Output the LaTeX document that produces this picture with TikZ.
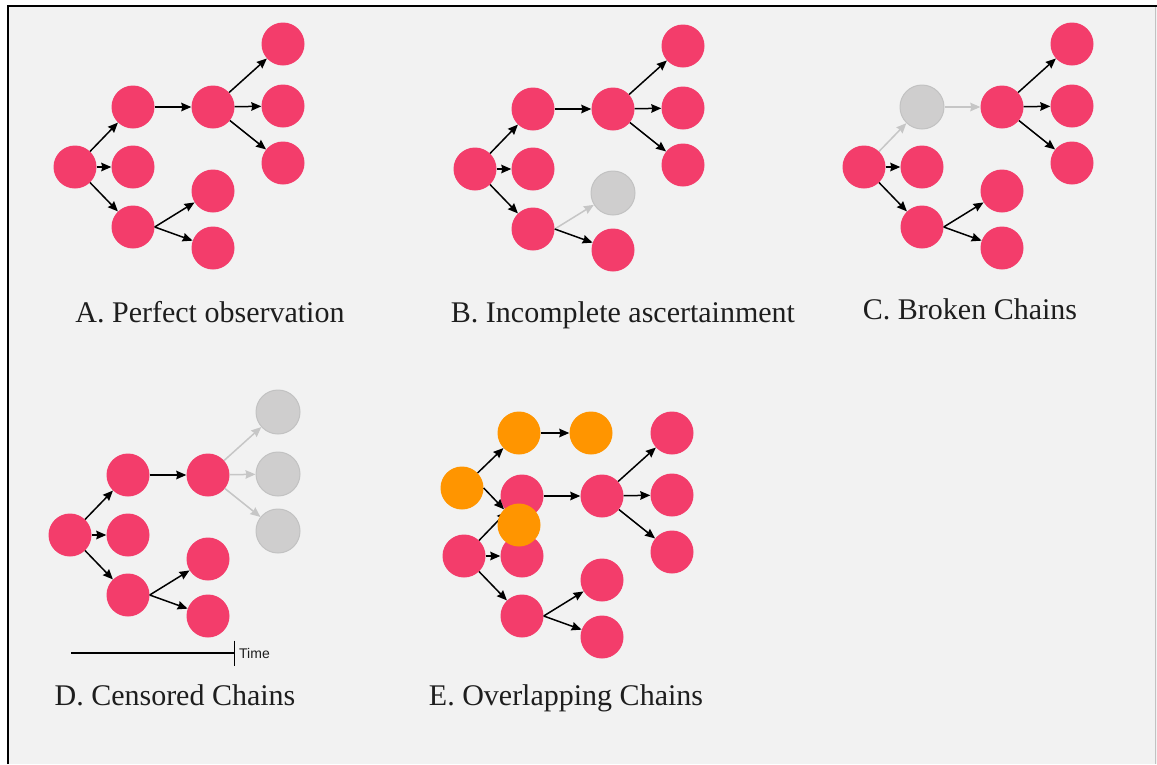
\documentclass[tikz,border=0pt]{standalone}
\usepackage{fontspec}
\setmainfont{Liberation Serif}
\setsansfont{Liberation Sans}
\usepackage{tikz}
\usetikzlibrary{arrows.meta,positioning}
\definecolor{paper}{HTML}{F2F2F2}
\definecolor{pink}{HTML}{F33D6B}
\definecolor{amber}{HTML}{FF9500}
\definecolor{ghost}{HTML}{CFCECE}
\definecolor{ghostline}{HTML}{C2C2C2}
\definecolor{ghostlink}{HTML}{C6C6C6}
\definecolor{ink}{HTML}{1E1E1E}
\tikzset{
  case/.style={circle, fill=pink, minimum size=43pt, inner sep=0pt},
  faded/.style={fill=ghost, draw=ghostline, line width=1pt, minimum size=44pt},
  overlap/.style={case, fill=amber},
  link/.style={-{Stealth[length=10pt,width=8.5pt,inset=1pt]}, draw=black, line width=1.5pt},
  fadedlink/.style={link, draw=ghostlink},
  caption/.style={font=\fontsize{30}{36}\selectfont, text=ink, anchor=base, inner sep=0pt},
  timeline/.style={-{Bar[width=25pt,line width=1.2pt]}, draw=black, line width=1.2pt},
  timelabel/.style={font=\sffamily\fontsize{14}{16}\selectfont, text=ink, inner sep=1pt}
}
% one transmission tree; #1 name prefix, #2 root position, #3 per-panel overrides
\newcommand{\chaintree}[3]{%
  \begin{scope}[shift={#2}, #3]
    \node[case, case r/.try] (#1r) at (0,0) {};
    \node[case, case u/.try] (#1u) at (58,-60) {};
    \node[case, case m/.try] (#1m) at (58,0) {};
    \node[case, case d/.try] (#1d) at (58,60) {};
    \node[case, case s/.try] (#1s) at (138,-60) {};
    \node[case, case s1/.try] (#1s1) at (208,-123) {};
    \node[case, case s2/.try] (#1s2) at (208,-61) {};
    \node[case, case s3/.try] (#1s3) at (208,-4) {};
    \node[case, case d1/.try] (#1d1) at (138,24) {};
    \node[case, case d2/.try] (#1d2) at (138,81) {};
    \draw[link, link u/.try] (#1r) -- (#1u);
    \draw[link, link m/.try] (#1r) -- (#1m);
    \draw[link, link d/.try] (#1r) -- (#1d);
    \draw[link, link s/.try] (#1u) -- (#1s);
    \draw[link, link s1/.try] (#1s) -- (#1s1);
    \draw[link, link s2/.try] (#1s) -- (#1s2);
    \draw[link, link s3/.try] (#1s) -- (#1s3);
    \draw[link, link d1/.try] (#1d.east) -- (#1d1);
    \draw[link, link d2/.try] (#1d.east) -- (#1d2);
  \end{scope}}

\begin{document}
\begin{tikzpicture}[x=1pt, y=-1pt]
  \useasboundingbox (0,0) rectangle (1157,764);
  \fill[white] (0,0) rectangle (1157,764);
  \fill[paper] (8,6) rectangle (1157,764);
  \draw[black, line width=2pt] (8,764) -- (8,6) -- (1157,6);
  \draw[ghostline, line width=1pt] (1155.5,7) -- (1155.5,764);

  % A. nothing missed
  \chaintree{a}{(75,167)}{}
  \node[caption] (captA) at (210,322) {A. Perfect observation};

  % B. one case never seen
  \chaintree{b}{(475,169)}{case d1/.style=faded, link d1/.style=fadedlink}
  \node[caption] (captB) at (623,322) {B. Incomplete ascertainment};

  % C. missing link in the middle
  \chaintree{c}{(864,167)}{case u/.style=faded, link u/.style=fadedlink, link s/.style=fadedlink}
  \node[caption] (captC) at (970,319) {C. Broken Chains};

  % D. cut off in time
  \chaintree{d}{(70,535)}{case s1/.style=faded, case s2/.style=faded, case s3/.style=faded,
    link s1/.style=fadedlink, link s2/.style=fadedlink, link s3/.style=fadedlink}
  \coordinate (t0) at (71,653);
  \coordinate (t1) at (235,653);
  \draw[timeline] (t0) -- (t1);
  \node[timelabel, right=3pt of t1] (timeword) {Time};
  \node[caption] (captD) at (175,705) {D. Censored Chains};

  % E. second chain laid over the first
  \chaintree{e}{(464,556)}{}
  \node[overlap] (eo) at (462,488) {};
  \node[overlap] (eou) at (519,433) {};
  \node[overlap] (eos) at (591,433) {};
  \node[overlap] (eov) at (519,525) {};
  \draw[link] (eo) -- (eou);
  \draw[link] (eou) -- (eos);
  \draw[link] (eo.east) -- (eov);
  \node[caption] (captE) at (566,705) {E. Overlapping Chains};
\end{tikzpicture}
\end{document}
